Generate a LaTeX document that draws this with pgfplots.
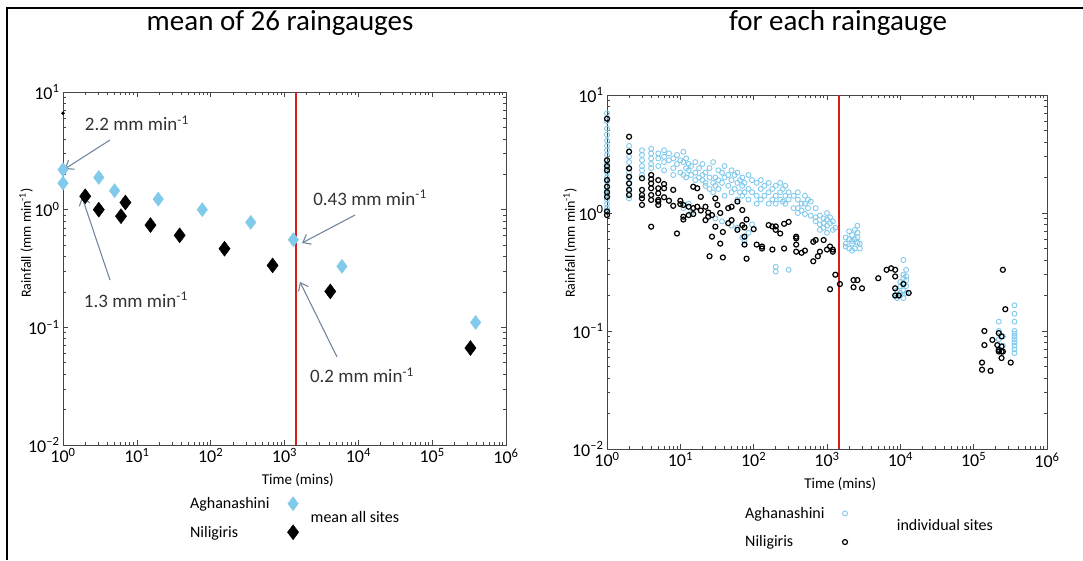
\documentclass[border=0pt]{standalone}
\usepackage{fontspec}
\setmainfont{Carlito}
\usepackage{pgfplots}
\pgfplotsset{compat=1.18}
\usetikzlibrary{arrows.meta}
\definecolor{aqua}{RGB}{130,202,236}
\definecolor{arrowc}{RGB}{115,135,158}
\definecolor{redl}{RGB}{215,30,30}
\definecolor{axc}{RGB}{70,70,70}
\pgfplotsset{
  every axis/.append style={
    xmode=log, ymode=log,
    scale only axis, clip=false,
    xmin=1, xmax=1e6, ymin=0.01, ymax=10,
    xtick={1,10,100,1000,10000,100000,1000000},
    xticklabels={10\textsuperscript{0},10\textsuperscript{1},10\textsuperscript{2},10\textsuperscript{3},10\textsuperscript{4},10\textsuperscript{5},10\textsuperscript{6}},
    ytick={0.01,0.1,1,10},
    yticklabels={10\textsuperscript{–2},10\textsuperscript{–1},10\textsuperscript{0},10\textsuperscript{1}},
    tick label style={font=\fontsize{18}{20}\selectfont},
    axis line style={axc, line width=0.9pt},
    major tick length=5pt, minor tick length=3pt,
    every tick/.style={axc, line width=0.6pt},
    label style={font=\fontsize{15}{17}\selectfont},
    legend plot pos=right,
    legend cell align=left,
    legend style={draw=none, fill=none, inner sep=0pt, font=\fontsize{16}{18}\selectfont,
      row sep=12pt, column sep=16pt},
  }
}
\pgfplotstableread{
x y
1 2.19
1 1.68
3.05 1.88
5.0 1.45
19.5 1.23
77 1.0
349 0.78
1320 0.556
6000 0.33
388000 0.110
}\aghmean
\pgfplotstableread{
x y
2.0 1.30
3.05 1.0
6.1 0.88
7.0 1.15
15.3 0.74
38 0.605
154 0.466
690 0.336
4170 0.202
330000 0.0667
}\nilmean
\pgfplotstableread{
x y
1 7.0
1 6.0
1 5.2
1 4.6
1 4.1
1 3.7
1 3.4
1 3.1
1 2.8
1 2.6
1 2.4
1 2.2
1 2.0
1 1.85
1 1.7
1 1.55
1 1.45
1 1.3
1 1.2
1 1.1
1 1.05
2 3.7
2 3.3
2 3.0
2 2.7
2 2.4
2 2.2
2 2.0
2 1.8
2 1.6
2 1.45
2 1.33
3 3.4
3 3.1
3 2.8
3 2.5
3 2.3
3 2.1
4 3.5
4 3.2
4 2.9
4 2.6
4 2.4
5 3.2
5 2.9
5 2.5
6 3.4
6 3.0
6 2.7
6 2.3
7 3.2
7 2.8
8 2.9
8 2.4
8 2.1
9 3.1
9 2.6
10 2.8
10 2.2
11 3.3
11 2.7
11 2.1
11 1.1
12 2.9
12 2.4
12 2.0
13 2.6
13 2.3
13 1.2
14 2.5
14 2.1
14 1.0
16 2.7
16 2.2
16 1.9
18 2.4
18 2.0
20 2.6
20 2.1
20 1.9
22 2.2
22 1.8
22 1.7
25 2.4
25 2.0
25 1.6
28 2.7
28 1.8
28 1.5
30 2.0
30 1.7
30 0.9
33 2.3
33 1.9
33 1.6
37 2.2
37 1.8
37 0.85
40 2.5
40 2.0
40 1.4
45 2.1
45 1.7
50 2.3
50 1.9
50 1.5
50 0.78
55 2.1
55 1.6
60 2.2
60 1.8
60 1.3
60 0.75
65 1.9
65 1.5
70 2.0
70 1.7
70 1.4
70 0.62
75 1.8
75 1.5
75 0.58
85 2.1
85 1.6
85 1.3
85 0.68
95 1.9
95 1.5
95 0.8
110 1.8
110 1.4
110 1.2
125 1.9
125 1.6
125 1.3
140 1.7
140 1.4
160 1.8
160 1.5
160 1.2
180 1.6
180 1.3
200 1.7
200 1.4
200 1.2
200 0.35
200 0.32
230 1.8
230 1.5
230 1.3
250 1.6
250 1.25
270 1.7
270 1.4
270 1.2
300 1.5
300 1.3
300 0.33
350 1.4
350 1.1
400 1.5
400 1.3
400 1.1
400 1.0
450 1.2
450 1.05
500 1.4
500 1.2
500 0.98
550 1.3
550 1.1
600 1.25
600 0.95
700 1.1
700 0.92
700 0.85
800 0.95
800 0.8
800 0.72
900 0.9
900 0.82
900 0.75
1000 1.0
1000 0.88
1000 0.78
1000 0.68
1100 0.92
1100 0.82
1200 0.85
1200 0.72
1300 0.75
1800 0.62
1800 0.55
1800 0.52
2000 0.7
2000 0.6
2000 0.5
2200 0.65
2200 0.58
2200 0.55
2200 0.48
2400 0.72
2400 0.6
2400 0.5
2600 0.78
2600 0.68
2600 0.62
2600 0.56
2800 0.55
2800 0.5
9000 0.22
9000 0.2
9000 0.19
10000 0.26
10000 0.24
10000 0.21
10000 0.2
11000 0.4
11000 0.3
11000 0.28
11000 0.25
11000 0.22
11000 0.19
12000 0.33
12000 0.29
12000 0.27
12000 0.24
12000 0.21
220000 0.12
220000 0.1
220000 0.085
220000 0.07
250000 0.09
250000 0.075
360000 0.165
360000 0.14
360000 0.12
360000 0.1
360000 0.095
360000 0.09
360000 0.085
360000 0.08
360000 0.075
360000 0.07
360000 0.065
}\aghind
\pgfplotstableread{
x y
1 6.3
1 2.8
1 2.3
1 1.9
1 1.67
1 1.37
1 1.03
1 0.96
1 2.5
1 1.5
2 4.43
2 3.31
2 2.39
2 2.03
2 1.78
2 1.57
2 1.42
3 1.97
3 1.57
3 1.42
3 1.33
3 1.17
4 2.10
4 1.93
4 1.78
4 1.62
4 1.42
4 1.29
4 0.766
5 1.90
5 1.62
5 1.47
5 1.29
5 1.25
5 1.17
6 1.76
6 1.62
6 1.36
7 1.27
8 1.57
8 1.15
9 0.67
10 1.27
10 1.19
11 1.17
11 0.93
11 0.88
13 1.13
13 0.96
15 1.67
15 1.10
15 0.98
17 1.62
17 1.13
19 1.37
19 1.05
22 1.13
22 0.87
24 1.01
24 0.93
25 0.43
27 0.96
27 0.63
30 1.33
30 0.766
32 1.17
35 1.0
35 0.55
38 0.69
38 0.42
45 1.10
45 0.82
50 1.13
50 0.87
60 1.25
60 0.72
70 1.06
70 0.79
75 0.755
75 0.63
75 0.54
80 0.41
80 0.88
100 0.73
110 0.54
130 0.52
130 0.50
160 0.79
180 0.77
180 0.49
200 0.77
200 0.72
230 0.67
260 0.81
260 0.50
300 0.84
380 0.63
380 0.61
380 0.54
380 0.47
450 0.46
500 0.48
650 0.39
650 0.57
700 0.59
750 0.43
800 0.47
900 0.59
1000 0.49
1100 0.52
1100 0.226
1200 0.49
1200 0.47
1300 0.30
1500 0.25
2300 0.27
2300 0.235
2600 0.27
3000 0.23
5000 0.28
6500 0.33
7500 0.34
8500 0.33
8500 0.29
8500 0.23
8500 0.20
9500 0.20
11000 0.25
13000 0.21
130000 0.047
130000 0.054
140000 0.10
140000 0.076
170000 0.046
180000 0.084
210000 0.076
220000 0.096
220000 0.069
220000 0.067
240000 0.090
240000 0.074
240000 0.067
240000 0.059
250000 0.33
250000 0.067
270000 0.153
320000 0.054
}\nilind
\begin{document}
\begin{tikzpicture}
\useasboundingbox (0pt,0pt) rectangle (1083pt,560pt);
\draw[black, line width=1.6pt] (7pt,0pt) -- (7pt,552pt) -- (1083pt,552pt);
% left panel
\begin{axis}[
  at={(63pt,115pt)}, anchor=south west, width=443pt, height=353pt,
  title={mean of 26 raingauges},
  title style={at={(0.49,1.178)}, anchor=center, font=\fontsize{29}{33}\selectfont},
  xlabel={Time (mins)},
  xlabel style={at={(0.53,-0.099)}, anchor=center},
  ylabel={Rainfall (mm min\textsuperscript{-1})},
  ylabel style={at={(-0.0835,0.572)}, anchor=center, font=\fontsize{14}{16}\selectfont},
  legend style={at={(0.282,-0.142)}, anchor=north west},
]
\addplot[only marks, mark=diamond*, mark size=7pt, color=aqua, mark options={draw=aqua, fill=aqua}] table {\aghmean};
\addlegendentry{Aghanashini}
\addplot[only marks, mark=diamond*, mark size=7.5pt, color=black, mark options={fill=black}] table {\nilmean};
\addlegendentry{Niligiris}
\addplot[only marks, mark=*, mark size=1.5pt, color=black, forget plot] coordinates {(1,6.6)};
\addplot[redl, line width=1.8pt, forget plot] coordinates {(1440,0.01) (1440,10)};
\draw[arrowc, line width=1.1pt, -{Straight Barb[length=7pt,width=11pt]}] (axis cs:4.33,3.91) -- (axis cs:1.06,2.22);
\draw[arrowc, line width=1.1pt, -{Straight Barb[length=7pt,width=11pt]}] (axis cs:4.33,0.252) -- (axis cs:1.81,1.28);
\draw[arrowc, line width=1.1pt, -{Straight Barb[length=7pt,width=11pt]}] (axis cs:9020,0.90) -- (axis cs:1726,0.521);
\draw[arrowc, line width=1.1pt, -{Straight Barb[length=7pt,width=11pt]}] (axis cs:5140,0.056) -- (axis cs:1620,0.243);
\node[font=\fontsize{19}{21}\selectfont, text=black!80] at (axis cs:10,5.45) {2.2 mm min\textsuperscript{-1}};
\node[font=\fontsize{19}{21}\selectfont, text=black!80] at (axis cs:9.7,0.171) {1.3 mm min\textsuperscript{-1}};
\node[font=\fontsize{19}{21}\selectfont, text=black!80] at (axis cs:14400,1.26) {0.43 mm min\textsuperscript{-1}};
\node[font=\fontsize{19}{21}\selectfont, text=black!80] at (axis cs:11200,0.0394) {0.2 mm min\textsuperscript{-1}};
\node[font=\fontsize{16}{18}\selectfont] at (rel axis cs:0.659,-0.204) {mean all sites};
\end{axis}
% right panel
\begin{axis}[
  at={(607pt,111pt)}, anchor=south west, width=440pt, height=354pt,
  title={for each raingauge},
  title style={at={(0.525,1.186)}, anchor=center, font=\fontsize{29}{33}\selectfont},
  xlabel={Time (mins)},
  xlabel style={at={(0.53,-0.099)}, anchor=center},
  ylabel={Rainfall (mm min\textsuperscript{-1})},
  ylabel style={at={(-0.084,0.582)}, anchor=center, font=\fontsize{14}{16}\selectfont},
  legend style={at={(0.309,-0.158)}, anchor=north west},
]
\addplot[only marks, mark=o, mark size=2.5pt, color=aqua, mark options={line width=0.9pt}] table {\aghind};
\addlegendentry{Aghanashini}
\addplot[only marks, mark=o, mark size=2.5pt, color=black, mark options={line width=1.2pt}] table {\nilind};
\addlegendentry{Niligiris}
\addplot[redl, line width=1.8pt, forget plot] coordinates {(1440,0.01) (1440,10)};
\node[font=\fontsize{16}{18}\selectfont] at (rel axis cs:0.768,-0.215) {individual sites};
\end{axis}
\end{tikzpicture}
\end{document}
